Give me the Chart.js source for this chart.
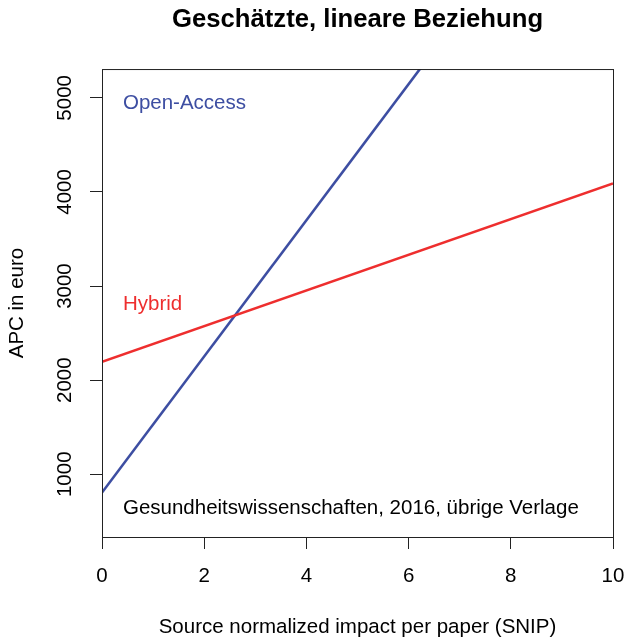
<!DOCTYPE html>
<html>
<head>
<meta charset="utf-8">
<script src="https://cdn.jsdelivr.net/npm/chart.js@4"></script>
<style>
  body { margin: 0; background: #fff; }
  canvas { display: block; }
</style>
</head>
<body>
<canvas id="apcChart" width="625" height="640"></canvas>
<script>
// SNIP (x) an den Enden der geschätzten Geraden
const snip = [0, 10]
const hybridApc = [2195, 4090]
const openAccessApc = [805, 8040]

const xTicks = [0, 2, 4, 6, 8, 10]
const yTicks = [1000, 2000, 3000, 4000, 5000]

// Beschriftungen im Plot (Position in Datenkoordinaten)
const noteTexts = ['Open-Access', 'Hybrid', 'Gesundheitswissenschaften, 2016, übrige Verlage']
const noteX = [0.41, 0.41, 0.41]
const noteY = [4940, 2805, 640]

const BLUE = '#3D4EA2'
const RED = '#EE2E2E'
const noteColors = [BLUE, RED, '#000']

Chart.defaults.font.family = "'Liberation Sans', Arial, sans-serif"
Chart.defaults.color = '#000'

const boxPlugin = {
  id: 'plotBox',
  afterDatasetsDraw(chart) {
    const { ctx, chartArea: a, scales } = chart
    ctx.save()
    ctx.strokeStyle = '#222'
    ctx.lineWidth = 1
    ctx.strokeRect(a.left + 0.5, a.top + 0.5, a.right - a.left, a.bottom - a.top)
    ctx.font = "20.5px 'Liberation Sans', Arial, sans-serif"
    ctx.textAlign = 'left'
    ctx.textBaseline = 'middle'
    noteTexts.forEach((t, i) => {
      ctx.fillStyle = noteColors[i]
      ctx.fillText(t, scales.x.getPixelForValue(noteX[i]), scales.y.getPixelForValue(noteY[i]))
    })
    ctx.restore()
  },
}

new Chart(document.getElementById('apcChart'), {
  type: 'line',
  data: {
    datasets: [
      {
        label: 'Hybrid',
        data: snip.map((x, i) => ({ x, y: hybridApc[i] })),
        borderColor: RED,
        borderWidth: 2.6,
        pointRadius: 0,
        clip: 0,
      },
      {
        label: 'Open-Access',
        data: snip.map((x, i) => ({ x, y: openAccessApc[i] })),
        borderColor: BLUE,
        borderWidth: 2.6,
        pointRadius: 0,
        clip: 0,
      },
    ],
  },
  options: {
    responsive: false,
    animation: false,
    layout: { padding: { left: 0, right: 12, top: 0, bottom: 0 } },
    plugins: {
      legend: { display: false },
      tooltip: { enabled: false },
      title: {
        display: true,
        fullSize: false,
        text: 'Geschätzte, lineare Beziehung',
        color: '#000',
        font: { size: 25.7, weight: 'bold' },
        padding: { top: 4.6, bottom: 33.6 },
      },
    },
    scales: {
      x: {
        type: 'linear',
        min: 0,
        max: 10,
        afterBuildTicks: (s) => { s.ticks = xTicks.map((v) => ({ value: v })) },
        afterFit: (s) => { s.height = 103; s.paddingLeft = 0; s.paddingRight = 0 },
        border: { display: false },
        grid: { drawOnChartArea: false, drawTicks: true, tickLength: 12, color: '#222' },
        ticks: { padding: 15, font: { size: 20.5 }, maxRotation: 0, callback: (v) => String(v) },
        title: {
          display: true,
          text: 'Source normalized impact per paper (SNIP)',
          font: { size: 20.5 },
          padding: 0,
        },
      },
      y: {
        type: 'linear',
        min: 333,
        max: 5306,
        afterBuildTicks: (s) => { s.ticks = yTicks.map((v) => ({ value: v })) },
        afterFit: (s) => { s.width = 102; s.paddingTop = 0; s.paddingBottom = 0 },
        border: { display: false },
        grid: { drawOnChartArea: false, drawTicks: true, tickLength: 12, color: '#222' },
        ticks: {
          padding: 2.2,
          font: { size: 20.5 },
          minRotation: 90,
          maxRotation: 90,
          crossAlign: 'center',
          callback: (v) => String(v),
        },
        title: {
          display: true,
          text: 'APC in euro',
          font: { size: 20.5 },
          padding: 5.4,
        },
      },
    },
  },
  plugins: [boxPlugin],
})
</script>
</body>
</html>
